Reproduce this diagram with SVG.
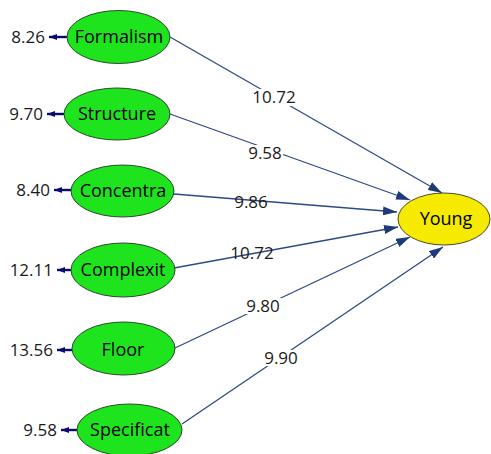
<svg xmlns="http://www.w3.org/2000/svg" width="491" height="454" viewBox="0 0 491 454">
<defs>
<marker id="ah" viewBox="0 0 14 9" refX="14" refY="4.5" markerWidth="14" markerHeight="9" markerUnits="userSpaceOnUse" orient="auto">
<path d="M0,0 L14,4.5 L0,9 Z" fill="#1f3a78"/>
</marker>
<marker id="eh" viewBox="0 0 8 6" refX="8" refY="3" markerWidth="8" markerHeight="6" markerUnits="userSpaceOnUse" orient="auto">
<path d="M0,0 L8,3 L0,6 Z" fill="#0a0a6e"/>
</marker>
</defs>
<style>
.node{fill:#1ee41e;stroke:#2a4a2a;stroke-width:1}
.target{fill:#f5ea00;stroke:#4a4a2a;stroke-width:1}
.lbl{font-family:"Open Sans","Liberation Sans",sans-serif;font-size:18px;fill:#000;text-anchor:middle}
.num{font-family:"Open Sans","Liberation Sans",sans-serif;font-size:17px;fill:#1a1a1a}
.path{stroke:#2c4a86;stroke-width:1.3;fill:none;marker-end:url(#ah)}
.err{stroke:#0a0a6e;stroke-width:2.4;fill:none;marker-end:url(#eh)}
.bg{fill:#fff}
</style>
<rect width="491" height="454" fill="#fff"/>
<g id="connectors">
<line class="path" x1="170" y1="37" x2="442" y2="193"/>
<line class="path" x1="170" y1="114" x2="410" y2="200"/>
<line class="path" x1="174" y1="194" x2="397" y2="212"/>
<line class="path" x1="174" y1="268" x2="398" y2="227"/>
<line class="path" x1="175" y1="348" x2="410" y2="237"/>
<line class="path" x1="182" y1="424" x2="443" y2="247"/>
<line class="err" x1="67" y1="37" x2="49" y2="37"/>
<line class="err" x1="64" y1="114" x2="47" y2="114"/>
<line class="err" x1="71" y1="190" x2="54" y2="190"/>
<line class="err" x1="71" y1="270" x2="57" y2="270"/>
<line class="err" x1="72" y1="350" x2="57" y2="350"/>
<line class="err" x1="77" y1="430" x2="61" y2="430"/>
<rect class="bg" x="252" y="89" width="45" height="17"/>
<rect class="bg" x="247" y="145" width="36" height="16"/>
<rect class="bg" x="245" y="298" width="36" height="16"/>
<rect class="bg" x="264" y="350" width="35" height="16"/>
<text class="num" x="274" y="103" text-anchor="middle">10.72</text>
<text class="num" x="265" y="159" text-anchor="middle">9.58</text>
<text class="num" x="251" y="208" text-anchor="middle">9.86</text>
<text class="num" x="252" y="259" text-anchor="middle">10.72</text>
<text class="num" x="263" y="312" text-anchor="middle">9.80</text>
<text class="num" x="281" y="364" text-anchor="middle">9.90</text>
</g>
<g id="formalism">
<ellipse class="node" cx="118.5" cy="37" rx="51.5" ry="26.5"/>
<text class="lbl" x="119" y="43">Formalism</text>
<text class="num" x="45" y="43" text-anchor="end">8.26</text>
</g>
<g id="structure">
<ellipse class="node" cx="117" cy="114" rx="53" ry="26"/>
<text class="lbl" x="117" y="120">Structure</text>
<text class="num" x="43" y="120" text-anchor="end">9.70</text>
</g>
<g id="concentra">
<ellipse class="node" cx="122.5" cy="191" rx="51.5" ry="26"/>
<text class="lbl" x="123" y="197">Concentra</text>
<text class="num" x="50" y="196" text-anchor="end">8.40</text>
</g>
<g id="complexit">
<ellipse class="node" cx="123" cy="270" rx="52" ry="27"/>
<text class="lbl" x="123" y="276">Complexit</text>
<text class="num" x="53" y="276" text-anchor="end">12.11</text>
</g>
<g id="floor">
<ellipse class="node" cx="123.5" cy="348.5" rx="51.5" ry="26.5"/>
<text class="lbl" x="123" y="356">Floor</text>
<text class="num" x="53" y="356" text-anchor="end">13.56</text>
</g>
<g id="specificat">
<ellipse class="node" cx="129.5" cy="430" rx="52.5" ry="26"/>
<text class="lbl" x="130" y="436">Specificat</text>
<text class="num" x="57" y="436" text-anchor="end">9.58</text>
</g>
<g id="young">
<ellipse class="target" cx="444" cy="219" rx="46" ry="26"/>
<text class="lbl" x="446" y="225">Young</text>
</g>
</svg>
